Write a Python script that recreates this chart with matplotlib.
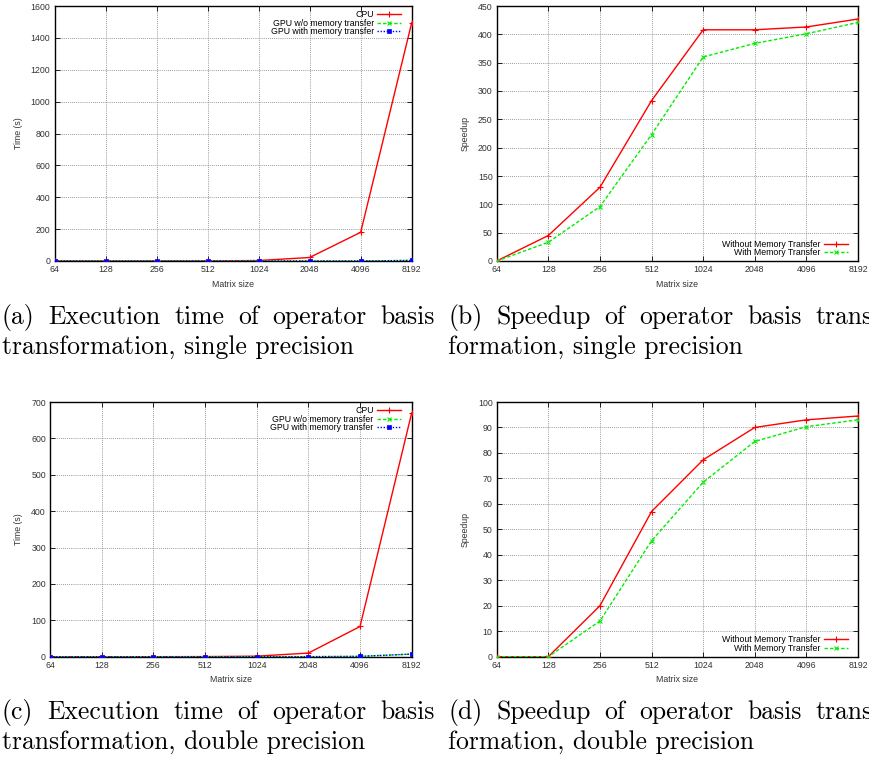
import matplotlib
matplotlib.use('Agg')
import matplotlib.pyplot as plt
import numpy as np


# размеры матриц (ось x)
SIZES = [64, 128, 256, 512, 1024, 2048, 4096, 8192]

# (a) время, single precision
CPU_SINGLE = [0.0, 0.02, 0.1, 0.8, 3.0, 22.0, 180.0, 1495.0]
GPU_NOMEM_SINGLE = [0.0, 0.0, 0.001, 0.003, 0.007, 0.054, 0.44, 3.5]
GPU_MEM_SINGLE = [0.0, 0.001, 0.001, 0.004, 0.008, 0.057, 0.45, 3.55]

# (b) ускорение, single precision
SPEEDUP_NOMEM_SINGLE = [0, 45, 130, 283, 408, 408, 413, 427]
SPEEDUP_MEM_SINGLE = [0, 33, 96, 223, 360, 384, 401, 421]

# (c) время, double precision
CPU_DOUBLE = [0.0, 0.005, 0.04, 0.3, 1.5, 10.0, 83.0, 670.0]
GPU_NOMEM_DOUBLE = [0.0, 0.0, 0.002, 0.005, 0.02, 0.11, 0.89, 7.1]
GPU_MEM_DOUBLE = [0.0, 0.0, 0.003, 0.007, 0.022, 0.12, 0.92, 7.2]

# (d) ускорение, double precision
SPEEDUP_NOMEM_DOUBLE = [0, 0, 20, 57, 77.3, 90, 93, 94.5]
SPEEDUP_MEM_DOUBLE = [0, 0, 14, 45.5, 68.5, 84.5, 90.3, 93]

CAPTIONS = [
    ('(a) Execution time of operator basis', 'transformation, single precision'),
    ('(b) Speedup of operator basis trans-', 'formation, single precision'),
    ('(c) Execution time of operator basis', 'transformation, double precision'),
    ('(d) Speedup of operator basis trans-', 'formation, double precision'),
]

W, H = 869, 764
TICK_FONT = 6.3
plt.rcParams['font.family'] = ['Liberation Sans', 'DejaVu Sans']

fig = plt.figure(figsize=(W / 100, H / 100), dpi=100)


def px_axes(left, top, right, bottom):
    """Оси по пиксельным координатам (от верхнего левого угла)"""
    return fig.add_axes([left / W, 1 - bottom / H, (right - left) / W, (bottom - top) / H])


def style_axes(ax, ymax, ystep, ylabel):
    ax.set_xscale('log', base=2)
    ax.set_xlim(SIZES[0], SIZES[-1])
    ax.set_xticks(SIZES)
    ax.set_xticklabels([str(s) for s in SIZES])
    ax.minorticks_off()
    ax.set_ylim(0, ymax)
    ax.set_yticks(np.arange(0, ymax + ystep / 2, ystep))
    ax.tick_params(direction='in', length=3.5, width=0.6, top=True, right=True,
                   labelsize=TICK_FONT, pad=3, colors='black', labelcolor='#333333')
    ax.grid(True, linestyle=(0, (1, 1.5)), linewidth=0.6, color='#777777')
    for sp in ax.spines.values():
        sp.set_linewidth(1.0)
    ax.set_xlabel('Matrix size', fontsize=TICK_FONT, color='#333333', labelpad=4)
    ax.set_ylabel(ylabel, fontsize=TICK_FONT, color='#333333')


def time_plot(ax, cpu, gpu_nomem, gpu_mem, ymax, ystep):
    ax.plot(SIZES, cpu, color='#ff0000', lw=1.0, marker='+', ms=4, mew=0.8, label='CPU', zorder=3)
    ax.plot(SIZES, gpu_nomem, color='#00ee00', lw=1.0, ls=(0, (2.5, 1.5)), marker='x', ms=3.5,
            mew=0.8, label='GPU w/o memory transfer', zorder=3)
    ax.plot(SIZES, gpu_mem, color='#0000ff', lw=1.0, ls=(0, (1, 1.2)), marker='s', ms=3,
            mew=0.5, label='GPU with memory transfer', zorder=3)
    style_axes(ax, ymax, ystep, 'Time (s)')
    ax.yaxis.labelpad = 5.5
    ax.legend(loc='upper right', bbox_to_anchor=(0.970, 0.984), markerfirst=False,
              frameon=False, fontsize=TICK_FONT, handlelength=2.7, handletextpad=0.4,
              labelspacing=-0.04, borderaxespad=0.0, borderpad=0.0)


def speedup_plot(ax, nomem, mem, ymax, ystep):
    ax.plot(SIZES, nomem, color='#ff0000', lw=1.0, marker='+', ms=4, mew=0.8,
            label='Without Memory Transfer', zorder=3)
    ax.plot(SIZES, mem, color='#00ee00', lw=1.0, ls=(0, (2.5, 1.5)), marker='x', ms=3.5,
            mew=0.8, label='With Memory Transfer', zorder=3)
    style_axes(ax, ymax, ystep, 'Speedup')
    ax.yaxis.labelpad = 6
    ax.legend(loc='lower right', bbox_to_anchor=(0.972, 0.014), markerfirst=False,
              frameon=False, fontsize=TICK_FONT, handlelength=2.7, handletextpad=0.4,
              labelspacing=-0.04, borderaxespad=0.0, borderpad=0.0)


def justified(x0, x1, y, text, **kw):
    """Выравнивание строки по ширине (как в LaTeX)"""
    words = text.split()
    r = fig.canvas.get_renderer()
    items = [fig.text(0, 1 - y / H, w, va='baseline', **kw) for w in words]
    widths = [t.get_window_extent(r).width for t in items]
    gap = (x1 - x0 - sum(widths)) / (len(words) - 1)
    x = x0
    for t, w in zip(items, widths):
        t.set_x(x / W)
        x += w + gap


ax_a = px_axes(54.5, 6, 411.7, 261)
time_plot(ax_a, CPU_SINGLE, GPU_NOMEM_SINGLE, GPU_MEM_SINGLE, 1600, 200)

ax_b = px_axes(496.7, 6, 858, 261)
speedup_plot(ax_b, SPEEDUP_NOMEM_SINGLE, SPEEDUP_MEM_SINGLE, 450, 50)

ax_c = px_axes(50, 402, 411.7, 656.7)
time_plot(ax_c, CPU_DOUBLE, GPU_NOMEM_DOUBLE, GPU_MEM_DOUBLE, 700, 100)

ax_d = px_axes(496.7, 402, 858, 656.7)
speedup_plot(ax_d, SPEEDUP_NOMEM_DOUBLE, SPEEDUP_MEM_DOUBLE, 100, 10)

# подписи под графиками
cap_font = dict(fontfamily='cmr10', fontsize=18.5, color='black')
cap_pos = [(2, 324), (448, 324), (2, 719), (448, 719)]
for (line1, line2), (x0, y) in zip(CAPTIONS, cap_pos):
    justified(x0, x0 + 433, y, line1, **cap_font)
    fig.text(x0 / W, 1 - (y + 30) / H, line2, va='baseline', **cap_font)

plt.savefig('out.png', dpi=100)
